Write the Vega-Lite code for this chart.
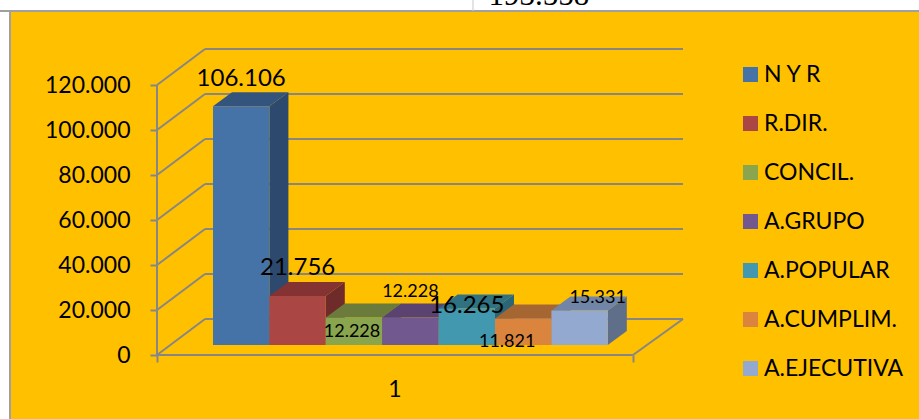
{
"$schema":"https://vega.github.io/schema/vega-lite/v6.json",
"width":919,"height":419,"padding":0,"autosize":"none","background":"white",
"config":{"view":{"stroke":null},"text":{"font":"Lato","color":"black"}},
"datasets":{
"series":[
{"serie":"N Y R","slot":0,"value":106106},
{"serie":"R.DIR.","slot":1,"value":21756},
{"serie":"CONCIL.","slot":2,"value":12228},
{"serie":"A.GRUPO","slot":3,"value":12228},
{"serie":"A.POPULAR","slot":4,"value":16265},
{"serie":"A.CUMPLIM.","slot":5,"value":11821},
{"serie":"A.EJECUTIVA","slot":6,"value":15331}],
"ticks":[{"tick":0},{"tick":20000},{"tick":40000},{"tick":60000},{"tick":80000},{"tick":100000},{"tick":120000}]
},
"layer":[
{"data":{"values":[{"part":"panel"}]},"mark":{"type":"rect","fill":"#FFC000"},
"encoding":{"x":{"datum":-3.5993,"type":"quantitative","scale":{"domain":[-3.7766,12.5177],"range":[0,919],"nice":false,"zero":false},
"axis":{"values":[-0.9929,7.4468],"labels":false,"domain":false,"grid":false,"title":null,"offset":-64,"tickSize":7,"tickColor":"#868686","tickWidth":2,"zindex":1}},"x2":{"datum":12.5177},
"y":{"datum":152889,"type":"quantitative","scale":{"domain":[-28444,157778],"range":[419,0],"nice":false,"zero":false},
"axis":{"values":[0,20000,40000,60000,80000,100000,120000],"labelExpr":"replace(format(datum.value,','),',','.')","domain":false,"grid":false,"title":null,"offset":-157,"tickSize":7,"tickColor":"#868686","tickWidth":2,"labelPadding":20,"labelFont":"Lato","labelFontSize":23,"labelColor":"black","zindex":1}},"y2":{"datum":-28444}}},
{"data":{"values":[{"part":"frame"}]},"mark":{"type":"rule","color":"#A0A0A0","strokeWidth":2},
"encoding":{"x":{"datum":-3.7766,"type":"quantitative","axis":null},"x2":{"datum":12.5177},"y":{"datum":152889,"type":"quantitative","axis":null}}},
{"data":{"values":[{"part":"frame"}]},"mark":{"type":"rule","color":"#A0A0A0","strokeWidth":2},
"encoding":{"x":{"datum":-3.5993,"type":"quantitative","axis":null},"y":{"datum":152889,"type":"quantitative","axis":null},"y2":{"datum":-28444}}},
{"data":{"values":[{"part":"frame"}]},"mark":{"type":"rule","color":"#C8C8C8","strokeWidth":1},
"encoding":{"x":{"datum":4.6099,"type":"quantitative","axis":null},"y":{"datum":152889,"type":"quantitative","axis":null},"y2":{"datum":157778}}},
{"data":{"values":[{"txt":"193.558"}]},"mark":{"type":"text","font":"Liberation Serif","fontSize":31,"align":"center","baseline":"alphabetic"},
"encoding":{"x":{"datum":5.78,"type":"quantitative","axis":null},"y":{"datum":155556,"type":"quantitative","axis":null},"text":{"field":"txt"}}},
{"data":{"name":"ticks"},"mark":{"type":"rule","color":"#868686","strokeWidth":2,"yOffset":-36},
"encoding":{"x":{"datum":-0.1418,"type":"quantitative","axis":null},"x2":{"datum":8.3333},
"y":{"field":"tick","type":"quantitative","axis":null}}},
{"data":{"name":"ticks"},"transform":[{"calculate":"datum.tick+16000","as":"back"}],"mark":{"type":"rule","color":"#868686","strokeWidth":2},
"encoding":{"x":{"datum":-0.9929,"type":"quantitative","axis":null},"x2":{"datum":-0.1418},"y":{"field":"tick","type":"quantitative","axis":null},"y2":{"field":"back"}}},
{"data":{"values":[{"part":"floor"}]},"mark":{"type":"rule","color":"#868686","strokeWidth":2},
"encoding":{"x":{"datum":-0.9929,"type":"quantitative","axis":null},"x2":{"datum":7.4468},"y":{"datum":0,"type":"quantitative","axis":null}}},
{"data":{"values":[{"part":"floor"}]},"mark":{"type":"rule","color":"#868686","strokeWidth":2},
"encoding":{"x":{"datum":7.4468,"type":"quantitative","axis":null},"x2":{"datum":8.3333},"y":{"datum":0,"type":"quantitative","axis":null},"y2":{"datum":16000}}},
{"data":{"values":[{"part":"wall"}]},"mark":{"type":"rule","color":"#868686","strokeWidth":2},
"encoding":{"x":{"datum":-0.9929,"type":"quantitative","axis":null},"y":{"datum":0,"type":"quantitative","axis":null},"y2":{"datum":120000}}},
{"data":{"name":"series"},"transform":[
{"calculate":"[0,1]","as":"k"},{"flatten":["k"]},
{"calculate":"datum.slot+1+datum.k*0.337","as":"sx"},
{"calculate":"4444+datum.k*6222","as":"sy"},
{"calculate":"datum.value+4444+datum.k*6222","as":"sy2"}],
"mark":{"type":"area","orient":"vertical"},
"encoding":{"x":{"field":"sx","type":"quantitative","axis":null},"y":{"field":"sy","type":"quantitative","axis":null,"stack":null},"y2":{"field":"sy2"},
"color":{"field":"serie","type":"nominal","legend":null,"scale":{"domain":["N Y R","R.DIR.","CONCIL.","A.GRUPO","A.POPULAR","A.CUMPLIM.","A.EJECUTIVA"],"range":["#2D4A6E","#6F2B2A","#596A30","#4A3760","#2A6675","#8E5628","#5F6F8A"]}}}},
{"data":{"name":"series"},"transform":[
{"calculate":"[0,1,2,3]","as":"k"},{"flatten":["k"]},
{"calculate":"datum.slot+[0,0.337,1,1.337][datum.k]","as":"tx"},
{"calculate":"datum.value+4444+[0,0,0,6222][datum.k]","as":"ty"},
{"calculate":"datum.value+4444+[0,6222,6222,6222][datum.k]","as":"ty2"}],
"mark":{"type":"area","orient":"vertical"},
"encoding":{"x":{"field":"tx","type":"quantitative","axis":null},"y":{"field":"ty","type":"quantitative","axis":null,"stack":null},"y2":{"field":"ty2"},
"color":{"field":"serie","type":"nominal","legend":null,"scale":{"domain":["N Y R","R.DIR.","CONCIL.","A.GRUPO","A.POPULAR","A.CUMPLIM.","A.EJECUTIVA"],"range":["#35547D","#843232","#6A7B3B","#5A4370","#2F7282","#A56632","#7185A6"]}}}},
{"data":{"name":"series"},"transform":[
{"calculate":"datum.slot+1","as":"slotEnd"},
{"calculate":"datum.value+4444","as":"top"},
{"calculate":"4444","as":"base"}],
"mark":{"type":"rect"},
"encoding":{"x":{"field":"slot","type":"quantitative","axis":null},"x2":{"field":"slotEnd"},"y":{"field":"top","type":"quantitative","axis":null},"y2":{"field":"base"},
"color":{"field":"serie","type":"nominal","scale":{"domain":["N Y R","R.DIR.","CONCIL.","A.GRUPO","A.POPULAR","A.CUMPLIM.","A.EJECUTIVA"],"range":["#4572A7","#AA4643","#89A54E","#71588F","#4198AF","#DB843D","#93A9CF"]},
"legend":{"orient":"none","legendX":739,"legendY":63,"title":null,"padding":0,"symbolType":"square","symbolSize":225,"symbolStrokeWidth":0,"labelFont":"Lato","labelFontSize":23,"labelColor":"black","labelOffset":2,"rowPadding":25,"labelLimit":300}}}},
{"data":{"name":"series"},"transform":[{"filter":"datum.slot==0"},{"calculate":"datum.slot+0.5","as":"c"},{"calculate":"replace(format(datum.value,','),',','.')","as":"lab"}],
"mark":{"type":"text","fontSize":24,"align":"center","baseline":"middle","dy":-37},
"encoding":{"x":{"field":"c","type":"quantitative","axis":null},"y":{"field":"value","type":"quantitative","axis":null},"text":{"field":"lab"}}},
{"data":{"name":"series"},"transform":[{"filter":"datum.slot==1"},{"calculate":"datum.slot+0.5","as":"c"},{"calculate":"replace(format(datum.value,','),',','.')","as":"lab"}],
"mark":{"type":"text","fontSize":24,"align":"center","baseline":"middle","dy":-38},
"encoding":{"x":{"field":"c","type":"quantitative","axis":null},"y":{"field":"value","type":"quantitative","axis":null},"text":{"field":"lab"}}},
{"data":{"name":"series"},"transform":[{"filter":"datum.slot==2"},{"calculate":"datum.slot+0.5","as":"c"},{"calculate":"replace(format(datum.value,','),',','.')","as":"lab"}],
"mark":{"type":"text","fontSize":18,"align":"center","baseline":"middle","dy":5,"dx":-2},
"encoding":{"x":{"field":"c","type":"quantitative","axis":null},"y":{"field":"value","type":"quantitative","axis":null},"text":{"field":"lab"}}},
{"data":{"name":"series"},"transform":[{"filter":"datum.slot==3"},{"calculate":"datum.slot+0.5","as":"c"},{"calculate":"replace(format(datum.value,','),',','.')","as":"lab"}],
"mark":{"type":"text","fontSize":18,"align":"center","baseline":"middle","dy":-35},
"encoding":{"x":{"field":"c","type":"quantitative","axis":null},"y":{"field":"value","type":"quantitative","axis":null},"text":{"field":"lab"}}},
{"data":{"name":"series"},"transform":[{"filter":"datum.slot==4"},{"calculate":"datum.slot+0.5","as":"c"},{"calculate":"replace(format(datum.value,','),',','.')","as":"lab"}],
"mark":{"type":"text","fontSize":24,"align":"center","baseline":"middle","dy":-12},
"encoding":{"x":{"field":"c","type":"quantitative","axis":null},"y":{"field":"value","type":"quantitative","axis":null},"text":{"field":"lab"}}},
{"data":{"name":"series"},"transform":[{"filter":"datum.slot==5"},{"calculate":"datum.slot+0.5","as":"c"},{"calculate":"replace(format(datum.value,','),',','.')","as":"lab"}],
"mark":{"type":"text","fontSize":18,"align":"center","baseline":"middle","dx":-16,"dy":14},
"encoding":{"x":{"field":"c","type":"quantitative","axis":null},"y":{"field":"value","type":"quantitative","axis":null},"text":{"field":"lab"}}},
{"data":{"name":"series"},"transform":[{"filter":"datum.slot==6"},{"calculate":"datum.slot+0.5","as":"c"},{"calculate":"replace(format(datum.value,','),',','.')","as":"lab"}],
"mark":{"type":"text","fontSize":18,"align":"center","baseline":"middle","dx":18,"dy":-23},
"encoding":{"x":{"field":"c","type":"quantitative","axis":null},"y":{"field":"value","type":"quantitative","axis":null},"text":{"field":"lab"}}},
{"data":{"values":[{"txt":"1"}]},"mark":{"type":"text","fontSize":23,"align":"center","baseline":"middle"},
"encoding":{"x":{"datum":3.227,"type":"quantitative","axis":null},"y":{"datum":-15556,"type":"quantitative","axis":null},"text":{"field":"txt"}}}
],
"resolve":{"scale":{"color":"independent"},"axis":{"x":"independent","y":"independent"}}
}
